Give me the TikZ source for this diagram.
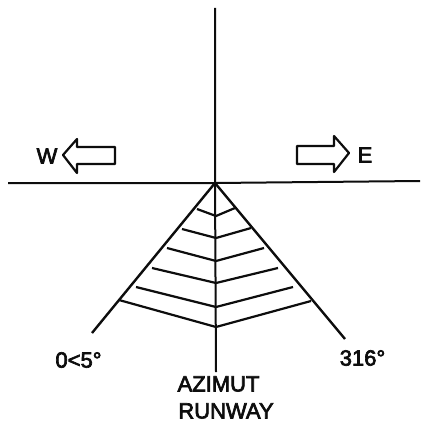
\documentclass[tikz,border=0pt]{standalone}
\usepackage{fontspec}
\setmainfont[FakeBold=3]{Liberation Sans}
\begin{document}
\begin{tikzpicture}[x=1pt,y=-1pt,
  axis/.style={draw=black!95,line width=2pt},
  rib/.style={draw=black!95,line width=2.2pt,line join=miter},
  hollow/.style={draw=black!95,line width=2.2pt,line join=round,fill=white},
  lbl/.style={inner sep=0pt,font=\fontsize{22}{22}\selectfont,text=black!95}]
\useasboundingbox (0,0) rectangle (420,425);
\coordinate (c) at (215,183);
\coordinate (n) at (215,8);
\coordinate (s) at (216,372);
\coordinate (w) at (8,183);
\coordinate (e) at (420,181);
\coordinate (l) at (92,333);
\coordinate (r) at (345,339);
\draw[axis] (n) -- (c) -- (s);
\draw[axis] (w) -- (c) -- (e);
\draw[axis,line width=2.4pt] (c) -- (l);
\draw[axis,line width=2.4pt] (c) -- (r);
\foreach \i/\lx/\ly/\my/\rx/\ry in {1/197/209/216/235/208,2/182/229/238/251/228,3/167/248/261/264/248,4/152/268/283/278/268,5/136/287/307/293/287,6/119/300/327/311/301}{
  \coordinate (a\i) at (\lx,\ly);
  \coordinate (m\i) at (216,\my);
  \coordinate (b\i) at (\rx,\ry);
  \draw[rib] (a\i) -- (m\i) -- (b\i);
}
\draw[hollow] (63,155) -- (77,139) -- (77,147) -- (115,147) -- (115,164) -- (77,164) -- (77,173) -- cycle;
\draw[hollow] (349,153) -- (334,136) -- (334,146) -- (297,146) -- (297,164) -- (334,164) -- (334,172) -- cycle;
\node[lbl] (tw) at (47,156) {W};
\node[lbl] (te) at (365,155) {E};
\node[lbl] (t1) at (78.5,360) {0<5°};
\node[lbl] (t2) at (362.5,358) {316°};
\node[lbl] (t3) at (218.5,384) {AZIMUT};
\node[lbl] (t4) at (226,411) {RUNWAY};
\end{tikzpicture}
\end{document}
